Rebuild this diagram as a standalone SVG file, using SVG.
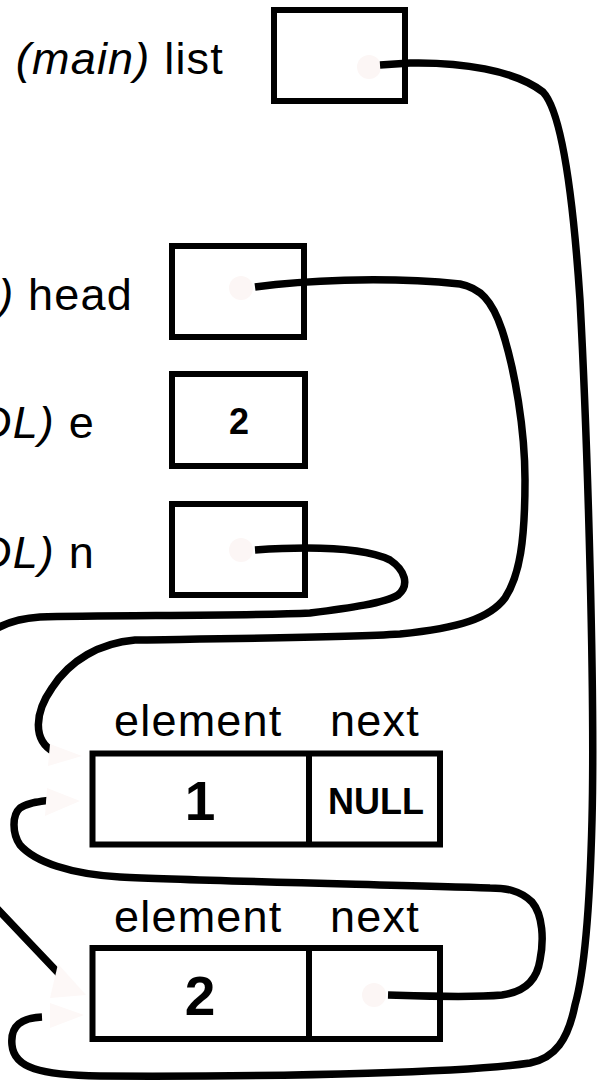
<svg xmlns="http://www.w3.org/2000/svg" width="602" height="1082" viewBox="0 0 602 1082">
<style>
.box{fill:#fff;stroke:#000;stroke-width:6}
.div{stroke:#000;stroke-width:6}
.wire{fill:none;stroke:#000;stroke-width:7.5;stroke-linecap:butt;stroke-linejoin:round}
.lbl{font-family:"Liberation Sans",Arial,sans-serif;font-size:45px;letter-spacing:1.2px;fill:#000}
.it{font-style:italic}
.val{font-family:"Liberation Sans",Arial,sans-serif;font-weight:bold;fill:#000;text-anchor:middle}
.dot{fill:#fcf6f5}
.ah{fill:#fdf8f7}
</style>
<rect width="602" height="1082" fill="#fff"/>
<g id="list">
<text class="lbl" x="224" y="74" text-anchor="end"><tspan class="it">(main)</tspan> list</text>
<rect class="box" x="274" y="10" width="131" height="91"/>
<circle class="dot" cx="369" cy="67" r="12"/>
</g>
<g id="head">
<text class="lbl" x="133" y="310" text-anchor="end"><tspan class="it">)</tspan> head</text>
<rect class="box" x="172" y="246" width="132" height="91"/>
<circle class="dot" cx="241" cy="288" r="12"/>
</g>
<g id="e">
<text class="lbl" x="95" y="438" text-anchor="end"><tspan class="it">DL)</tspan> e</text>
<rect class="box" x="172" y="374" width="133" height="92"/>
<text class="val" x="239" y="434" font-size="36">2</text>
</g>
<g id="n">
<text class="lbl" x="95" y="568" text-anchor="end"><tspan class="it">DL)</tspan> n</text>
<rect class="box" x="172" y="504" width="133" height="91"/>
<circle class="dot" cx="241" cy="550" r="12"/>
</g>
<g id="node1">
<text class="lbl" x="114" y="736">element</text>
<text class="lbl" x="330" y="736">next</text>
<rect class="box" x="92.5" y="753.5" width="347.5" height="91"/>
<line class="div" x1="309" y1="753.5" x2="309" y2="844.5"/>
<text class="val" x="200" y="820" font-size="55">1</text>
<text class="val" x="376" y="814" font-size="36">NULL</text>
</g>
<g id="node2">
<text class="lbl" x="114" y="932">element</text>
<text class="lbl" x="330" y="932">next</text>
<rect class="box" x="92.5" y="948" width="347.5" height="91"/>
<line class="div" x1="309" y1="948" x2="309" y2="1039"/>
<text class="val" x="200" y="1015" font-size="55">2</text>
<circle class="dot" cx="374" cy="995" r="12"/>
</g>
<g id="connectors">
<path class="wire" d="M 380 65 L 410 63 C 460 62, 515 70, 543 92 C 560 110, 572 180, 580 300 C 588 450, 595 700, 592 820 C 590 900, 585 970, 575 1005 C 568 1040, 555 1058, 530 1063 C 470 1072, 300 1077, 100 1076 C 40 1075, 14 1068, 12 1045 C 10 1025, 22 1018, 42 1017"/>
<path class="wire" d="M 255 287 C 300 281, 380 276, 460 284 C 480 288, 492 300, 502 330 C 515 370, 525 430, 525 480 C 525 540, 520 575, 505 598 C 490 618, 460 628, 400 634 C 340 638, 200 639, 135 640 C 100 643, 70 660, 52 688 C 35 712, 32 740, 54 752"/>
<path class="wire" d="M 255 550 C 300 547, 360 546, 390 560 C 405 570, 410 585, 398 595 C 385 603, 350 608, 310 613 C 250 616, 100 615, 40 617 C 10 619, -20 630, -30 660 L -30 880 L 63 978"/>
<path class="wire" d="M 388 995 C 420 996, 470 998, 502 995 C 525 992, 537 980, 540 960 C 544 940, 543 915, 532 902 C 520 890, 505 888, 490 888 C 400 885, 200 881, 120 877 C 70 874, 35 862, 20 845 C 12 833, 12 815, 20 808 C 30 802, 42 801, 52 800"/>
<polygon class="ah" points="82,756 50,744 48,766"/>
<polygon class="ah" points="80,801 47,788 45,816"/>
<polygon class="ah" points="86,995 58,964 50,998"/>
<polygon class="ah" points="84,1015 50,1003 50,1028"/>
</g>
</svg>
